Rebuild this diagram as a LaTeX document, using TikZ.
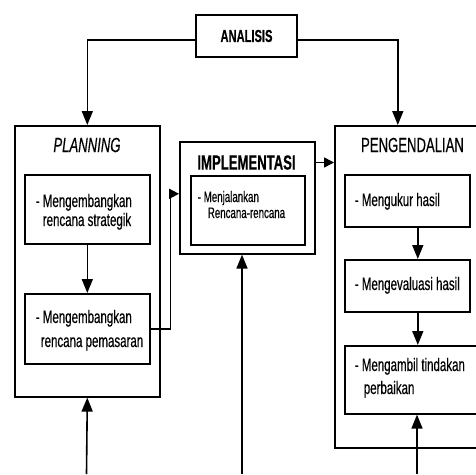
\documentclass[tikz,border=0pt]{standalone}
\usepackage{fontspec}
\setmainfont{Liberation Sans}[FakeStretch=0.64,FakeBold=0.4]
\usetikzlibrary{arrows.meta}
\begin{document}
\begin{tikzpicture}[x=1pt,y=-1pt,line width=1.6pt,
  box/.style={draw,line width=1.6pt,inner sep=0pt,anchor=north west},
  arr/.style={-{Triangle[length=14pt,width=11pt]}},
  sarr/.style={-{Triangle[length=10pt,width=10pt]}},
  txt/.style={anchor=base west,inner sep=0pt,font=\fontsize{18}{21}\selectfont},
  stxt/.style={anchor=base west,inner sep=0pt,font=\fontsize{15.2}{18}\selectfont},
  ttl/.style={inner sep=0pt,font=\fontsize{20.5}{24}\selectfont}]
\useasboundingbox (0,0) rectangle (476,474);
\clip (0,0) rectangle (476,474);
% ANALISIS
\node[draw,line width=1.6pt,minimum width=101pt,minimum height=42pt,inner sep=0pt] (analisis) at (246.5,36) {\bfseries\fontsize{17.4}{20}\selectfont ANALISIS};
% PLANNING
\node[box,minimum width=145pt,minimum height=271pt] (planning) at (14,125) {};
\node[ttl] (planttl) at (87,145) {\itshape PLANNING};
\node[box,minimum width=125pt,minimum height=69pt] (plan1) at (24,174) {};
\node[txt] (p1a) at (35,207) {- Mengembangkan};
\node[txt] (p1b) at (42,226) {rencana strategik};
\node[box,minimum width=125pt,minimum height=70pt] (plan2) at (24,293) {};
\node[txt] (p2a) at (35,323) {- Mengembangkan};
\node[txt] (p2b) at (40,347) {rencana pemasaran};
% IMPLEMENTASI
\node[box,minimum width=135pt,minimum height=112pt] (implo) at (179,141) {};
\node[ttl] (implttl) at (246.5,162.5) {\bfseries IMPLEMENTASI};
\node[box,minimum width=114pt,minimum height=69pt] (impli) at (190,175) {};
\node[stxt] (i1a) at (197,202) {- Menjalankan};
\node[stxt] (i1b) at (207,218) {Rencana-rencana};
% PENGENDALIAN
\node[box,minimum width=157pt,minimum height=322pt] (peng) at (334,125) {};
\node[ttl] (pengttl) at (412.5,145) {PENGENDALIAN};
\node[box,minimum width=125pt,minimum height=52pt] (ukur) at (344,174) {};
\node[txt] (u1) at (354,206) {- Mengukur hasil};
\node[box,minimum width=125pt,minimum height=52pt] (eval) at (344,259) {};
\node[txt] (e1) at (354,290) {- Mengevaluasi hasil};
\node[box,minimum width=146pt,minimum height=68pt] (ambil) at (344,345) {};
\node[txt] (a1) at (354,371) {- Mengambil tindakan};
\node[txt] (a2) at (363,394) {perbaikan};
% connectors
\draw[arr] ([yshift=-4pt]analisis.west) -| (planning.north);
\draw[arr] ([yshift=-4pt]analisis.east) -| ([xshift=-15.5pt]peng.north);
\draw[arr] (plan1.south) -- (plan2.north);
\draw[sarr] (plan2.east) -- ++(20,0) |- ([yshift=4pt]implo.west);
\draw[sarr] (implo.east |- implttl) -- (peng.west |- implttl);
\draw[arr] ([xshift=10.5pt]ukur.south) -- ([xshift=10.5pt]eval.north);
\draw[arr] ([xshift=10.5pt]eval.south) -- ([xshift=10.5pt]eval.south |- ambil.north);
\coordinate (b1) at (86.5,474);
\coordinate (b2) at (242,474);
\coordinate (b3) at (417,474);
\draw[arr] (b1) -- (planning.south);
\draw[arr] (b2) -- (b2 |- implo.south);
\draw[arr] (b3) -- (b3 |- ambil.south);
\end{tikzpicture}
\end{document}
